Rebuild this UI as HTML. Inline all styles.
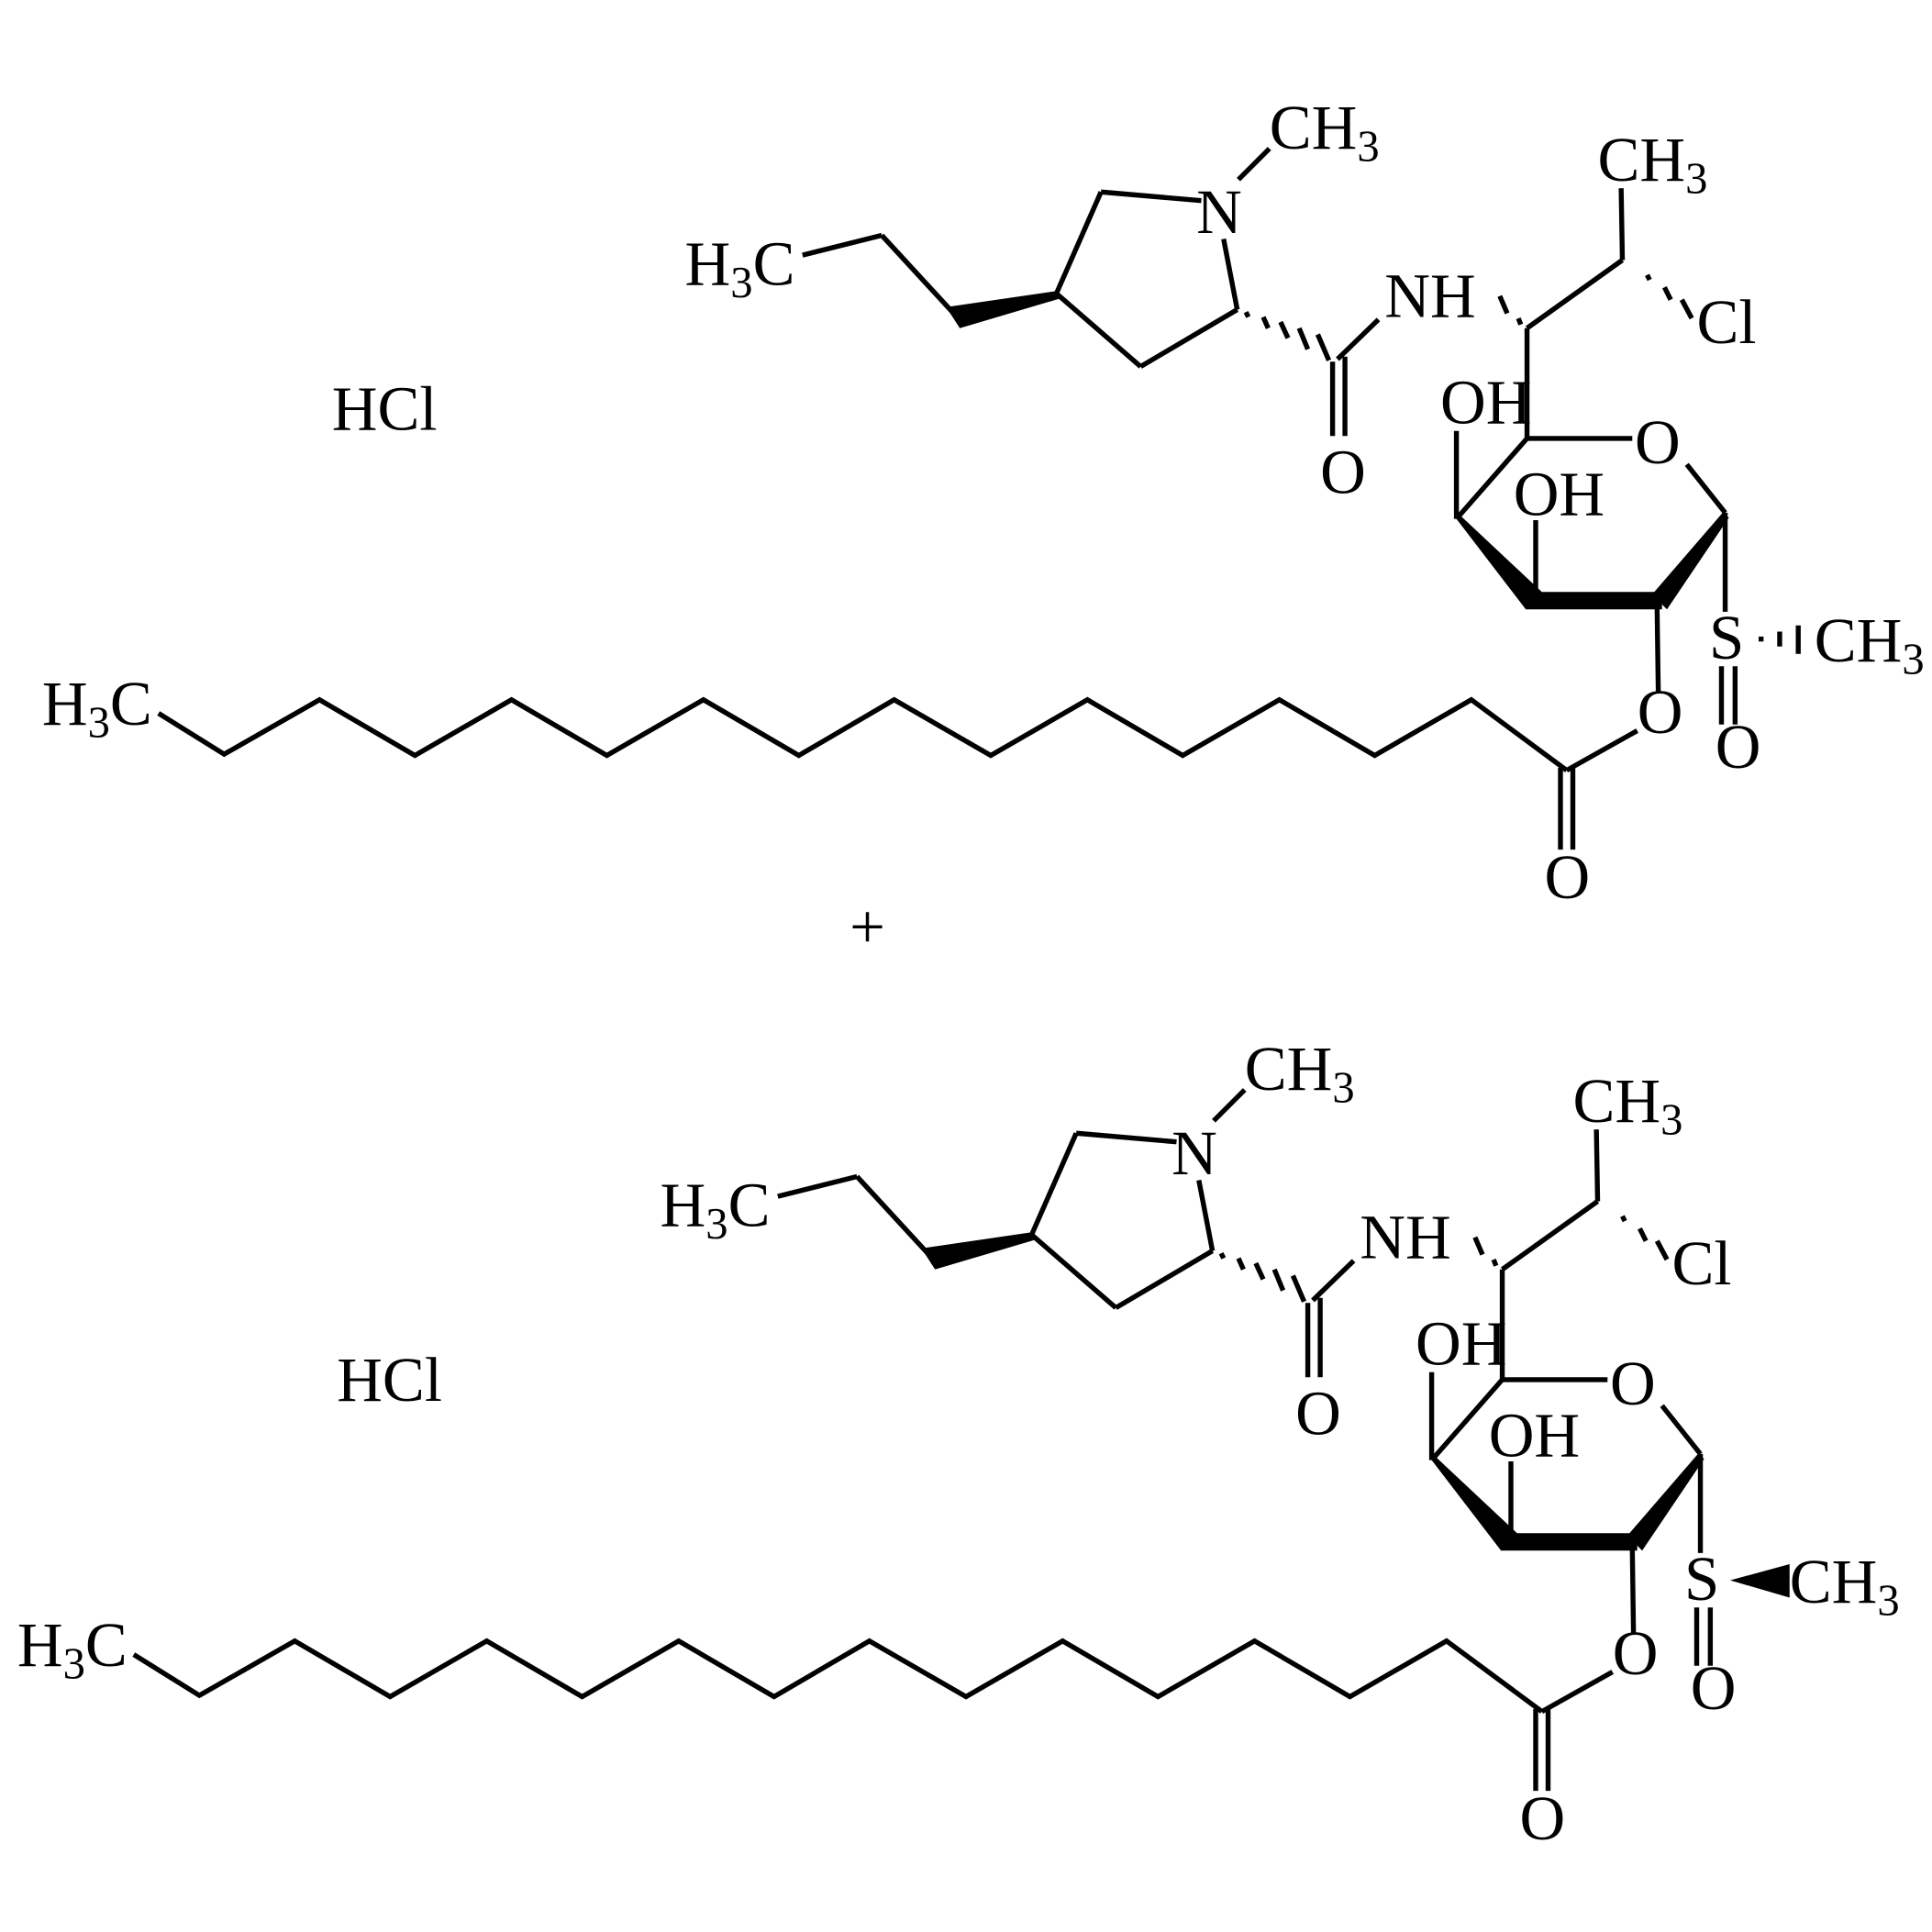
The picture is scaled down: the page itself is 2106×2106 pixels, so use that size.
<!DOCTYPE html>
<html><head><meta charset="utf-8"><style>
html,body{margin:0;padding:0;background:#fff;}
svg{display:block;}
text{font-family:"Liberation Serif","Times New Roman",Times,serif;font-size:51px;fill:#000;}
</style></head><body>
<svg width="2106" height="2106" viewBox="0 0 1560 1560" xmlns="http://www.w3.org/2000/svg">
<defs>
<g id="mol">
  <g stroke="#000" stroke-width="4" fill="none" stroke-linecap="butt" stroke-linejoin="miter">
    <line x1="1000" y1="145" x2="1025" y2="120"/>
    <line x1="970" y1="162" x2="889" y2="155"/>
    <line x1="889" y1="155" x2="853" y2="237"/>
    <line x1="853" y1="237" x2="921" y2="296"/>
    <line x1="921" y1="296" x2="999" y2="250"/>
    <line x1="999" y1="250" x2="988" y2="193"/>
    <line x1="648" y1="206" x2="712" y2="190"/>
    <line x1="712" y1="190" x2="770" y2="253"/>
    <line x1="1080" y1="290" x2="1113" y2="258"/>
    <line x1="1076" y1="292" x2="1076" y2="352"/>
    <line x1="1086" y1="288" x2="1086" y2="352"/>
    <line x1="1233" y1="265" x2="1310" y2="210"/>
    <line x1="1310" y1="210" x2="1309" y2="152"/>
    <line x1="1233" y1="265" x2="1233" y2="354"/>
    <line x1="1233" y1="354" x2="1318" y2="354"/>
    <line x1="1362" y1="375" x2="1393" y2="414"/>
    <line x1="1233" y1="354" x2="1176" y2="419"/>
    <line x1="1176" y1="419" x2="1176" y2="348"/>
    <line x1="1240" y1="482" x2="1240" y2="420"/>
    <line x1="1393" y1="414" x2="1393" y2="494"/>
    <line x1="1338" y1="490" x2="1339" y2="560"/>
    <line x1="1390" y1="538" x2="1390" y2="585"/>
    <line x1="1401" y1="538" x2="1401" y2="585"/>
    <line x1="1322" y1="590" x2="1265" y2="622"/>
    <line x1="1260" y1="620" x2="1260" y2="686"/>
    <line x1="1270" y1="620" x2="1270" y2="686"/>
    <polyline points="128,576 181,609 258,565 335,610 413,565 490,610 568,565 645,610 722,565 800,610 878,565 955,610 1033,565 1110,610 1188,565 1265,622"/>
  </g>
  <g fill="#000" stroke="none">
    <polygon points="853,235 856,241 775,265 764,248"/>
    <polygon points="1176,419 1180,417 1245,478 1232,492"/>
    <polygon points="1232,478 1342,478 1342,492 1232,492"/>
    <polygon points="1391,414 1396,418 1346,492 1334,480"/>
  </g>
  <g stroke="#000" stroke-width="4">
    <line x1="1006" y1="252" x2="1008" y2="256"/>
    <line x1="1020" y1="256" x2="1024" y2="265"/>
    <line x1="1034" y1="260" x2="1040" y2="273"/>
    <line x1="1049" y1="265" x2="1056" y2="282"/>
    <line x1="1064" y1="270" x2="1073" y2="291"/>
    <line x1="1228" y1="262" x2="1226" y2="257"/>
    <line x1="1217" y1="253" x2="1211" y2="239"/>
    <line x1="1330" y1="222" x2="1332" y2="226"/>
    <line x1="1344" y1="232" x2="1349" y2="242"/>
    <line x1="1358" y1="242" x2="1366" y2="257"/>
  </g>
  <text x="1025" y="120">CH<tspan font-size="36" dy="10">3</tspan></text>
  <text x="966" y="188">N</text>
  <text x="553" y="230">H<tspan font-size="36" dy="10">3</tspan><tspan dy="-10">C</tspan></text>
  <text x="1118" y="256">NH</text>
  <text x="1290" y="146">CH<tspan font-size="36" dy="10">3</tspan></text>
  <text x="1370" y="277">Cl</text>
  <text x="1163" y="342">OH</text>
  <text x="1222" y="416">OH</text>
  <text x="1320" y="374">O</text>
  <text x="1066" y="398">O</text>
  <text x="1380" y="532">S</text>
  <text x="1465" y="534">CH<tspan font-size="36" dy="10">3</tspan></text>
  <text x="1385" y="620">O</text>
  <text x="1322" y="592">O</text>
  <text x="1247" y="725">O</text>
  <text x="34" y="585">H<tspan font-size="36" dy="10">3</tspan><tspan dy="-10">C</tspan></text>
</g>
</defs>
<use href="#mol"/>
<g stroke="#000" stroke-width="4">
  <line x1="1420" y1="516" x2="1424" y2="516"/>
  <line x1="1437" y1="510" x2="1437" y2="522"/>
  <line x1="1452" y1="505" x2="1452" y2="528"/>
</g>
<g transform="translate(-20,760)">
  <use href="#mol"/>
  <polygon points="1417,516 1465,503 1465,530" fill="#000"/>
</g>
<text x="268" y="347">HCl</text>
<text x="272" y="1131">HCl</text>
<text x="686" y="765">+</text>
</svg>
</body></html>
